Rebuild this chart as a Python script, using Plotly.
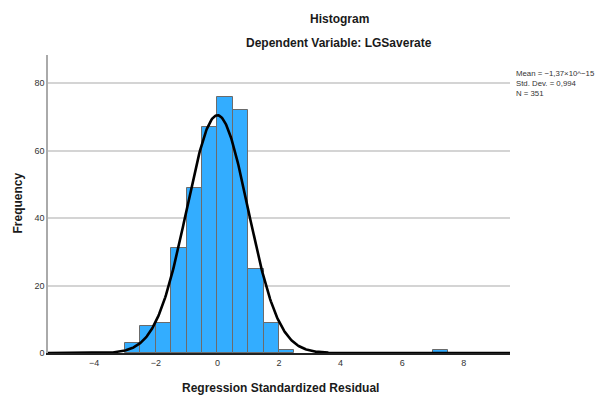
import numpy as np
import plotly.graph_objects as go

# Histogram of regression standardized residuals (bin width 0.5)
bin_starts = [-3.0, -2.5, -2.0, -1.5, -1.0, -0.5, 0.0, 0.5, 1.0, 1.5, 2.0, 7.0]
counts = [3, 8, 9, 31, 49, 67, 76, 72, 25, 9, 1, 1]
bin_width = 0.5

# Summary statistics shown in the side note
mean_val = -1.37e-15
std_dev = 0.994
n_obs = 351

x_ticks = [-4, -2, 0, 2, 4, 6, 8]
y_ticks = [0, 20, 40, 60, 80]

# Fitted normal curve scaled to frequency
xs = np.linspace(-5.5, 9.5, 600)
ys = n_obs * bin_width / (std_dev * np.sqrt(2 * np.pi)) * np.exp(-0.5 * ((xs - mean_val) / std_dev) ** 2)

centers = [s + bin_width / 2 for s in bin_starts]

fig = go.Figure()
fig.add_trace(go.Bar(
    x=centers, y=counts, width=bin_width,
    marker=dict(color="#33ADFF", line=dict(color="#6b6b6b", width=1)),
    hoverinfo="x+y",
))
fig.add_trace(go.Scatter(
    x=xs, y=ys, mode="lines",
    line=dict(color="black", width=2.6),
    hoverinfo="skip",
))

L, R, T, B = 48, 93, 55, 45
W, H = 603, 398
pw, ph = W - L - R, H - T - B

def px_x(p):
    return (p - L) / pw

def px_y(p):
    return (H - B - p) / ph

font = "Liberation Sans, Arial, sans-serif"

fig.update_layout(
    width=W, height=H,
    margin=dict(l=L, r=R, t=T, b=B),
    paper_bgcolor="white", plot_bgcolor="white",
    showlegend=False, bargap=0,
    font=dict(family=font, color="#333333"),
    xaxis=dict(
        range=[-5.5, 9.5], tickvals=x_ticks,
        showgrid=False, zeroline=False,
        showline=True, linecolor="#222222", linewidth=2,
        tickfont=dict(size=9, color="#333333"),
        ticks="", fixedrange=True,
    ),
    yaxis=dict(
        range=[0, 88.3], tickvals=y_ticks,
        showgrid=True, gridcolor="#d4d4d4", gridwidth=1.5,
        zeroline=False,
        showline=True, linecolor="#aaaaaa", linewidth=1.5,
        tickfont=dict(size=9, color="#333333"),
        ticks="", ticklen=0, fixedrange=True,
    ),
)

def note(text, px, py, size=12, bold=True, xanchor="center", angle=0, color="#1a1a1a", yanchor="middle"):
    fig.add_annotation(
        text=f"<b>{text}</b>" if bold else text,
        xref="paper", yref="paper", x=px_x(px), y=px_y(py),
        xanchor=xanchor, yanchor=yanchor, showarrow=False, textangle=angle,
        align="left",
        font=dict(family=font, size=size, color=color),
    )

note("Histogram", 339, 19)
note("Dependent Variable: LGSaverate", 338.5, 43)
note("Regression Standardized Residual", 280, 388)
note("Frequency", 17.5, 203, angle=-90)

stats_lines = [
    "Mean = \u22121,37\u00d710^\u221215",
    f"Std. Dev. = {str(std_dev).replace('.', ',')}",
    f"N = {n_obs}",
]
note("<br>".join(stats_lines), 514, 67, size=7.8, bold=False,
     xanchor="left", yanchor="top", color="#333333")

fig.write_html("out.html")
